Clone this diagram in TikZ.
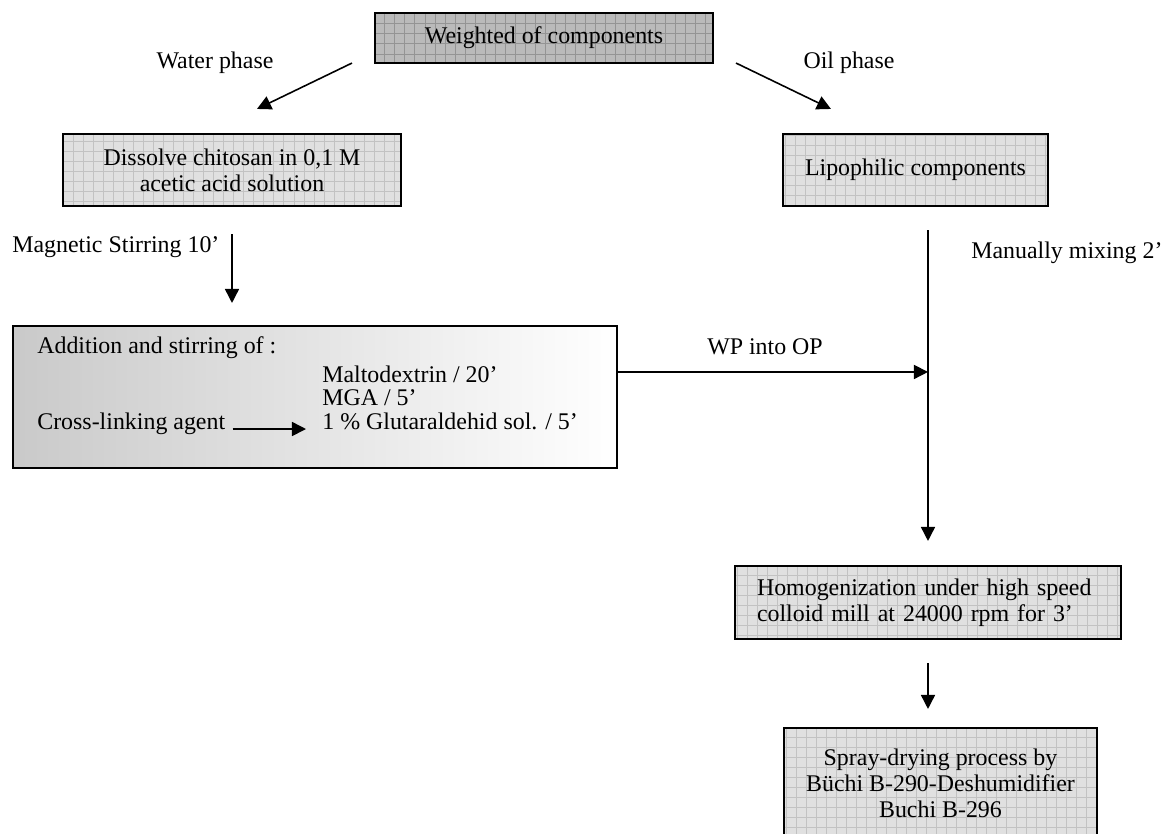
\documentclass[tikz,border=0pt]{standalone}
\usepackage{fontspec}
\setmainfont{Liberation Serif}
\usetikzlibrary{arrows.meta,calc,positioning}

\begin{document}
\begin{tikzpicture}[
    x=0.02cm, y=-0.02cm,
    font=\fontsize{13.6}{14.8}\selectfont,
    >={Triangle[length=8pt,width=8pt]},
    box/.style={draw, line width=1.2pt, align=center, inner sep=0pt},
    gbox/.style={box, fill=black!12, path picture={
        \draw[black!24, line width=0.4pt, step=5.7pt]
            (path picture bounding box.south west) grid (path picture bounding box.north east);}},
    dbox/.style={box, fill=black!27, path picture={
        \draw[black!42, line width=0.4pt, step=5.7pt]
            (path picture bounding box.south west) grid (path picture bounding box.north east);}},
    abox/.style={box, left color=black!21, middle color=black!5, right color=white},
    txt/.style={inner sep=0pt, anchor=base west},
    arr/.style={->, line width=0.9pt},
]
\path[use as bounding box, fill=white] (0,0) rectangle (1164,833);

% start and the two phases
\node[dbox, minimum width=6.76cm, minimum height=1cm] (weigh) at (544,38) {Weighted of components};
\node[gbox, minimum width=6.76cm, minimum height=1.44cm] (dissolve) at (232,170) {Dissolve chitosan in 0,1 M\\acetic acid solution};
\node[gbox, minimum width=5.3cm, minimum height=1.44cm] (lipo) at (915.5,170) {Lipophilic components};
\node (water) at (215,63) {Water phase};
\node (oil) at (849,63) {Oil phase};
\draw[arr] ($(weigh.south west)+(-22,-1)$) -- ($(dissolve.north)+(25,-24)$);
\draw[arr] ($(weigh.south east)+(22,-1)$) -- ($(lipo.north west)+(49,-24)$);

% water phase
\node[abox, minimum width=12.08cm, minimum height=2.84cm] (addbox) at (315,397) {};
\node[txt] (addtxt) at (37,353) {Addition and stirring of :};
\node[txt] (malto) at (322,382) {Maltodextrin / 20’};
\node[txt] (mga) at (322,405) {MGA / 5’};
\node[txt] (cross) at (37,429) {Cross-linking agent};
\node[txt] (glut) at (322,429) {1 \% Glutaraldehid sol. / 5’};
\draw[arr] ($(cross.base east)+(7,0)$) -- ($(glut.base west)+(-16,0)$);

\node[txt, anchor=west] (magn) at (12,247) {Magnetic Stirring 10’};
\draw[arr] ($(dissolve.south)+(0,27)$) -- ($(dissolve.south |- addbox.north)+(0,-22)$);

% oil phase and mixing
\coordinate (mixtop) at (928,230);
\node[txt, anchor=west] (manual) at (971,253) {Manually mixing 2’};
\draw[arr] ($(addbox.north east)+(0,47)$) coordinate (wp) -- (wp -| mixtop);
\node (wplab) at (765,347) {WP into OP};

% homogenization and drying
\node[gbox, minimum width=7.72cm, minimum height=1.46cm, align=left, text width=6.84cm] (homog) at (928,602.5)
    {Homogenization under high speed\\colloid mill at 24000 rpm for 3’};
\node[gbox, minimum width=6.26cm, minimum height=2.2cm] (spray) at (940.5,783)
    {Spray-drying process by\\Büchi B-290-Deshumidifier\\Buchi B-296};
\draw[arr] (mixtop) -- ($(homog.north)+(0,-24)$);
\draw[arr] ($(homog.south)+(0,23)$) -- ($(spray.north -| homog.south)+(0,-18)$);
\end{tikzpicture}
\end{document}
